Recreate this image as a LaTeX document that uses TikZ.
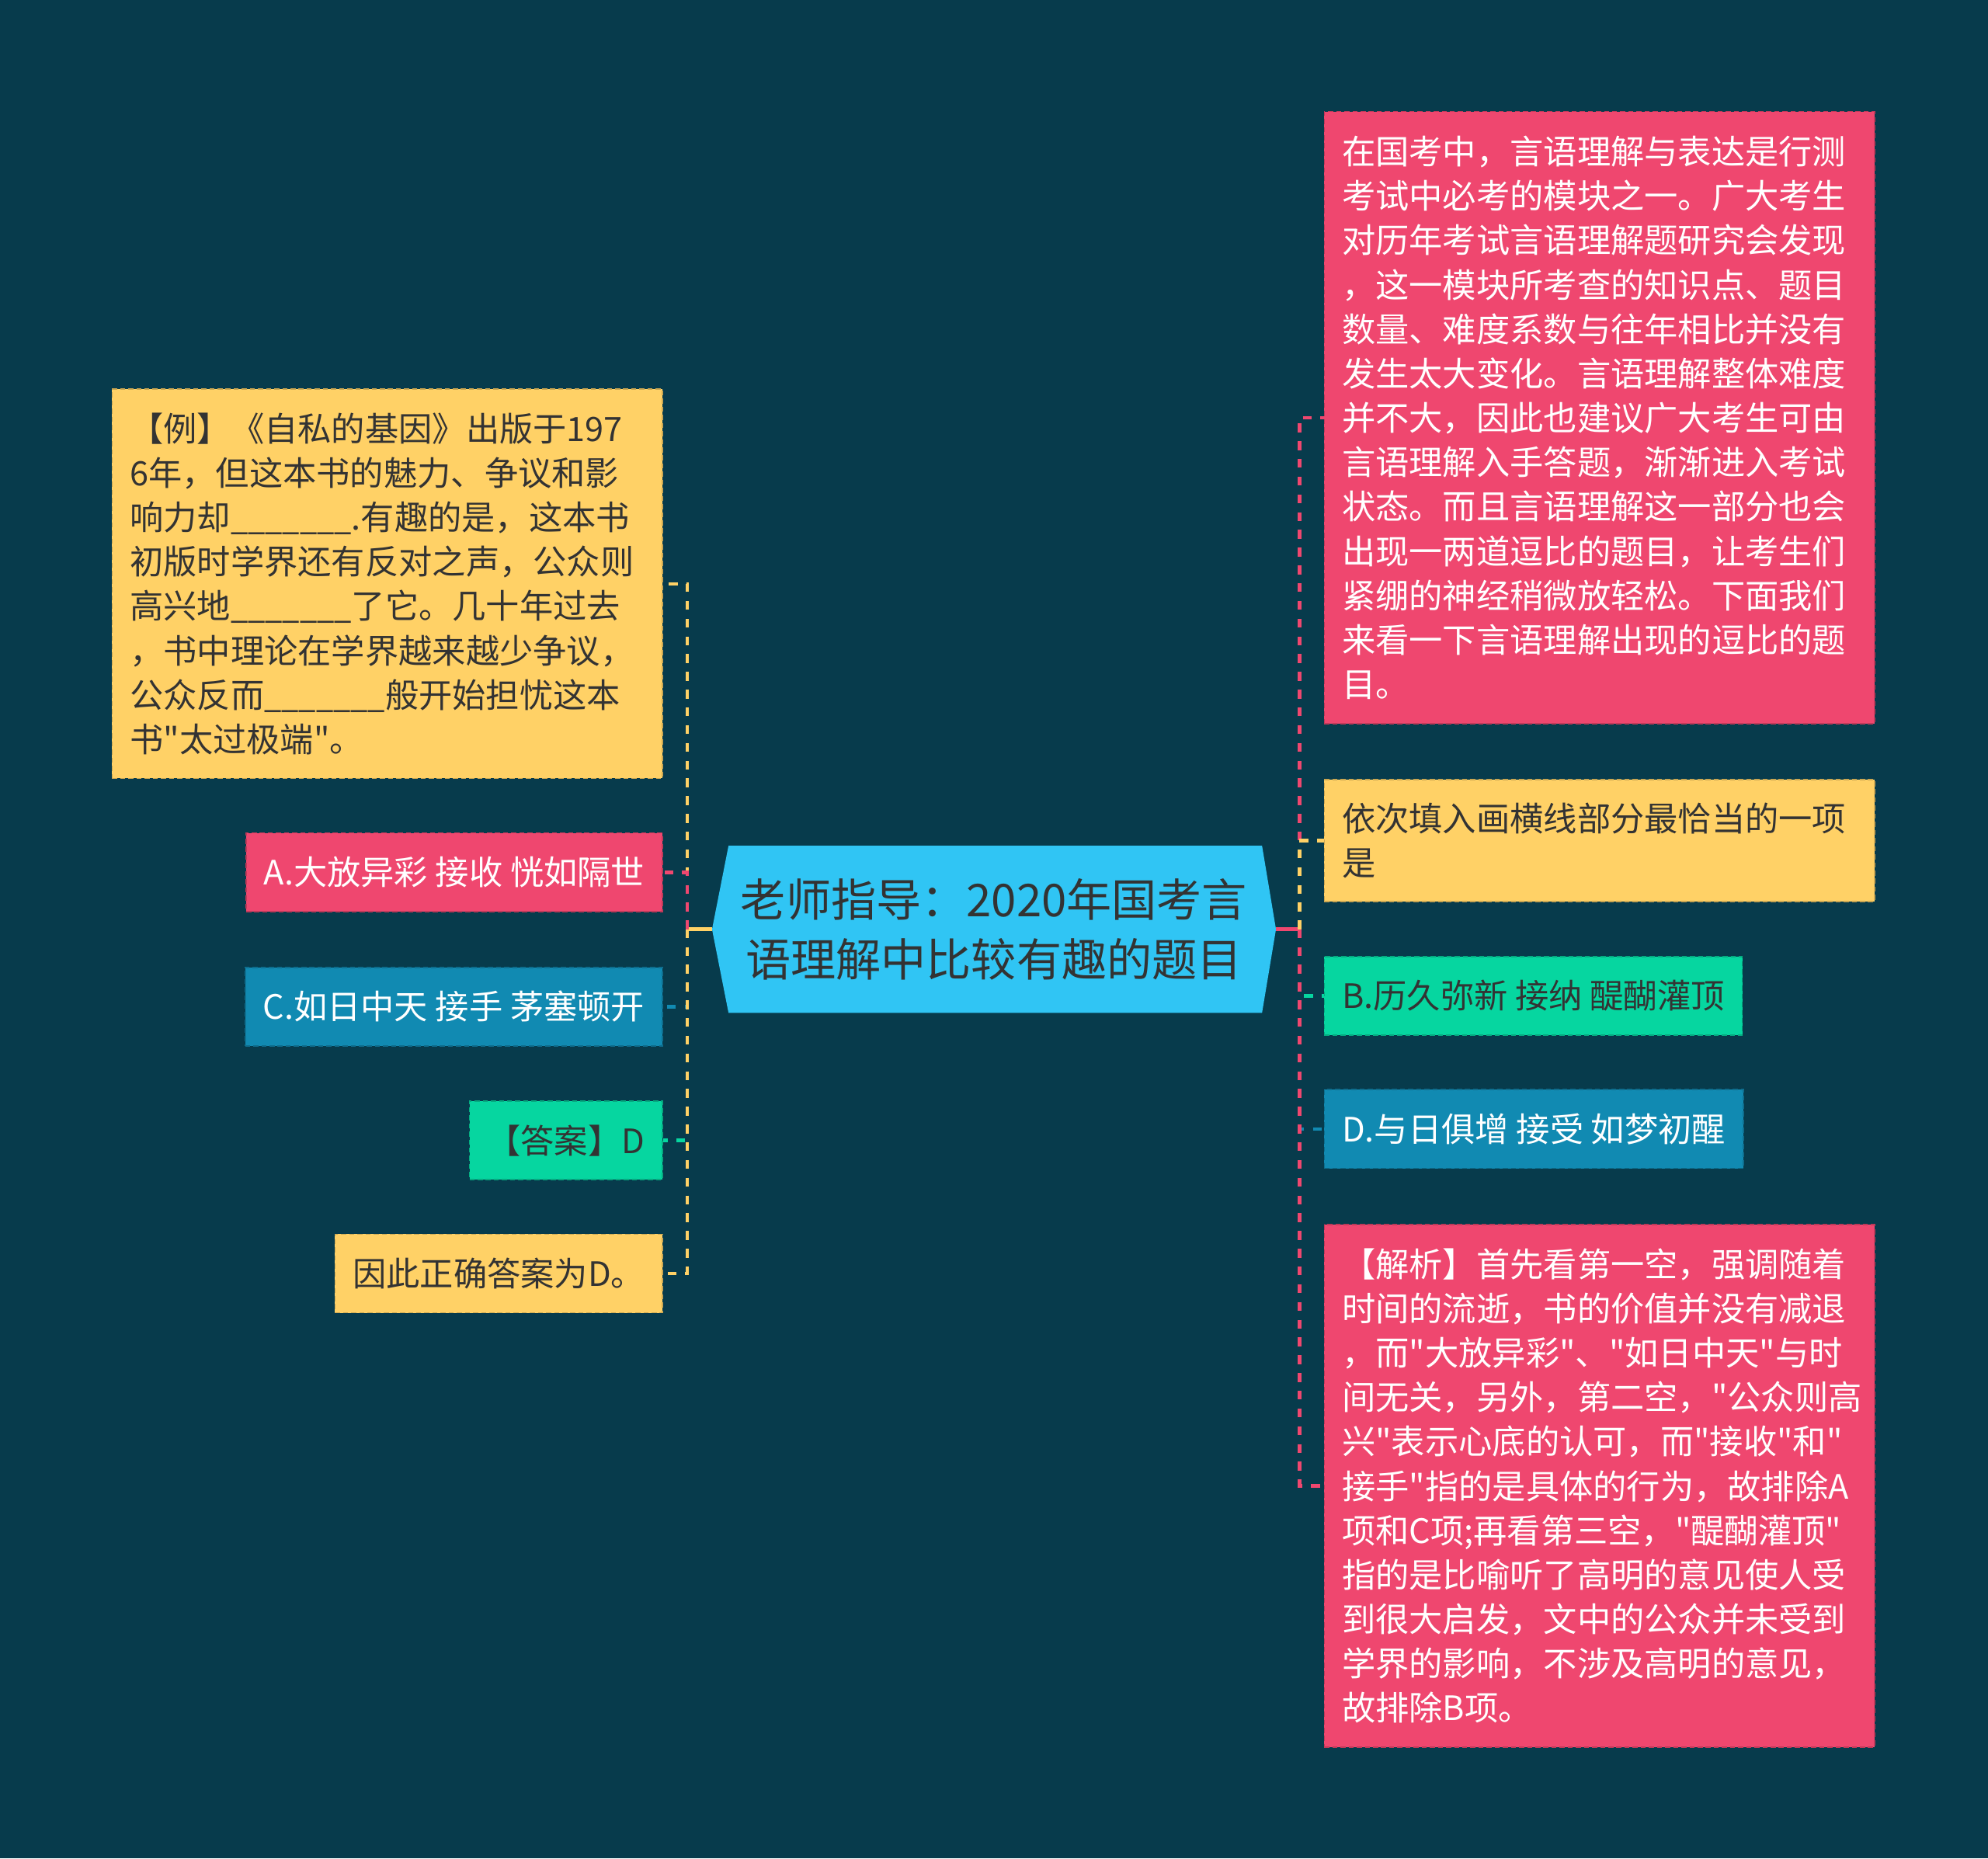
\documentclass[tikz,border=0pt]{standalone}
\usepackage{fontspec}
\newfontfamily\cjkschrift{Noto Sans CJK SC}
\usetikzlibrary{backgrounds}
\definecolor{grund}{HTML}{073B4C}
\definecolor{cgelb}{HTML}{FFD166}
\definecolor{crot}{HTML}{EF476F}
\definecolor{cgruen}{HTML}{06D6A0}
\definecolor{cblau}{HTML}{118AB2}
\definecolor{ccyan}{HTML}{30C5F4}
\definecolor{tinte}{HTML}{333333}
\newcommand{\luecke}{\scalebox{0.92}[1]{\_\_\_\_\_\_\_}}
\begin{document}
\begin{tikzpicture}[
      x=0.5pt, y=-0.5pt,
      every node/.style={font=\cjkschrift\fontsize{13.25pt}{17.5pt}\selectfont},
      kasten/.style={draw, dash pattern=on 2pt off 1.2pt, line width=0.5pt, inner xsep=7pt, inner ysep=0pt, minimum height=31pt},
      gelb/.style={kasten, fill=cgelb, draw=cgelb!80!black, text=tinte},
      rot/.style={kasten, fill=crot, draw=crot!80!black, text=white},
      gruen/.style={kasten, fill=cgruen, draw=cgruen!80!black, text=tinte},
      blau/.style={kasten, fill=cblau, draw=cblau!80!black, text=white},
      lang/.style={text width=203pt, align=left},
      ast/.style={line width=1.4pt, dash pattern=on 3.5pt off 3.5pt},
      stiel/.style={line width=1.4pt}
    ]
      \useasboundingbox (0,0) rectangle (1568,1466);
      % Mitte
      \node[minimum width=222pt, minimum height=65.5pt, text=tinte, align=center, font=\cjkschrift\fontsize{17.8pt}{23.5pt}\selectfont] (haupt) at (784,733) {老师指导：2020年国考言\\语理解中比较有趣的题目};
      % linke Seite
      \node[gelb, lang, anchor=east, minimum height=153.5pt] (beispiel) at (523,460.5) {【例】《自私的基因》出版于197\\6年，但这本书的魅力、争议和影\\响力却\luecke.有趣的是，这本书\\初版时学界还有反对之声，公众则\\高兴地\luecke 了它。几十年过去\\，书中理论在学界越来越少争议，\\公众反而\luecke 般开始担忧这本\\书"太过极端"。};
      \node[rot, anchor=east] (optA) at (523,688) {A.大放异彩 接收 恍如隔世};
      \node[blau, anchor=east] (optC) at (523,794) {C.如日中天 接手 茅塞顿开};
      \node[gruen, anchor=east] (antwort) at (523,899.5) {【答案】D};
      \node[gelb, anchor=east] (schluss) at (523,1004.5) {因此正确答案为D。};
      % rechte Seite
      \node[rot, lang, anchor=west, minimum height=241.5pt] (einleitung) at (1044,329.5) {在国考中，言语理解与表达是行测\\考试中必考的模块之一。广大考生\\对历年考试言语理解题研究会发现\\，这一模块所考查的知识点、题目\\数量、难度系数与往年相比并没有\\发生太大变化。言语理解整体难度\\并不大，因此也建议广大考生可由\\言语理解入手答题，渐渐进入考试\\状态。而且言语理解这一部分也会\\出现一两道逗比的题目，让考生们\\紧绷的神经稍微放轻松。下面我们\\来看一下言语理解出现的逗比的题\\目。};
      \node[gelb, lang, anchor=west, minimum height=48pt] (frage) at (1044,663) {依次填入画横线部分最恰当的一项\\是};
      \node[gruen, anchor=west] (optB) at (1044,785.5) {B.历久弥新 接纳 醍醐灌顶};
      \node[blau, anchor=west] (optD) at (1044,890.5) {D.与日俱增 接受 如梦初醒};
      \node[rot, lang, anchor=west, minimum height=206pt] (analyse) at (1044,1172) {【解析】首先看第一空，强调随着\\时间的流逝，书的价值并没有减退\\，而"大放异彩"、"如日中天"与时\\间无关，另外，第二空，"公众则高\\兴"表示心底的认可，而"接收"和"\\接手"指的是具体的行为，故排除A\\项和C项;再看第三空，"醍醐灌顶"\\指的是比喻听了高明的意见使人受\\到很大启发，文中的公众并未受到\\学界的影响，不涉及高明的意见，\\故排除B项。};
      % Verbindungen
      \coordinate (lknoten) at (542,733);
      \coordinate (rknoten) at (1025,733);
      \draw[stiel, cgelb] (haupt.west) -- (lknoten);
      \draw[stiel, crot] (haupt.east) -- (rknoten);
      \foreach \ziel/\farbe in {beispiel/cgelb, optA/crot, optC/cblau, antwort/cgruen, schluss/cgelb}
        \draw[ast, \farbe] (lknoten) |- (\ziel.east);
      \foreach \ziel/\farbe in {einleitung/crot, frage/cgelb, optB/cgruen, optD/cblau, analyse/crot}
        \draw[ast, \farbe] (rknoten) |- (\ziel.west);
      \begin{scope}[on background layer]
        \fill[grund] (0,0) rectangle (1568,1466);
        \fill[ccyan] (haupt.west) -- ([shift={(13,0)}]haupt.north west) -- ([shift={(-11,0)}]haupt.north east) -- (haupt.east) -- ([shift={(-11,0)}]haupt.south east) -- ([shift={(13,0)}]haupt.south west) -- cycle;
      \end{scope}
    \end{tikzpicture}
\end{document}
